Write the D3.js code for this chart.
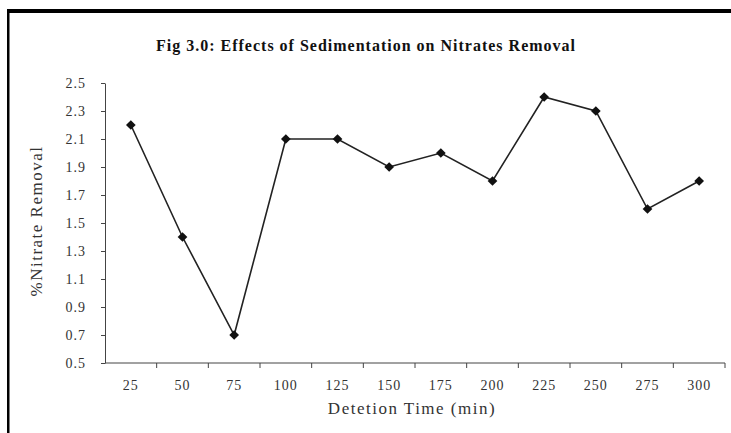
<!DOCTYPE html>
<html>
<head>
<meta charset="utf-8">
<script src="https://cdn.jsdelivr.net/npm/d3@7"></script>
<style>
  body { margin: 0; background: #fff; }
  text { font-family: "Liberation Serif", "DejaVu Serif", serif; }
</style>
</head>
<body>
<div class="container"></div>
<script>
const categories = ["25", "50", "75", "100", "125", "150", "175", "200", "225", "250", "275", "300"]
const removal = [2.2, 1.4, 0.7, 2.1, 2.1, 1.9, 2.0, 1.8, 2.4, 2.3, 1.6, 1.8]
const yTicks = [0.5, 0.7, 0.9, 1.1, 1.3, 1.5, 1.7, 1.9, 2.1, 2.3, 2.5]

const width = 731, height = 433
const margin = { top: 83, right: 6, bottom: 70, left: 105 }

const svg = d3.select(".container").append("svg")
    .attr("width", width)
    .attr("height", height)

// frame: thick top rule and thin left rule
svg.append("rect").attr("x", 7).attr("y", 9).attr("width", width - 7).attr("height", 4).attr("fill", "#000")
svg.append("rect").attr("x", 7).attr("y", 9).attr("width", 2.5).attr("height", height - 9).attr("fill", "#000")

const x = d3.scaleBand()
    .domain(categories)
    .range([margin.left, width - margin.right])

const y = d3.scaleLinear()
    .domain([0.5, 2.5])
    .range([height - margin.bottom, margin.top])

const gy = svg.append("g")
    .attr("transform", `translate(${margin.left},0)`)
    .call(d3.axisLeft(y).tickValues(yTicks).tickFormat(d3.format(".1f")).tickSize(4).tickSizeOuter(0))
gy.select(".domain").attr("stroke", "#444")
gy.selectAll(".tick line").attr("stroke", "#444")
gy.selectAll(".tick text").attr("x", -19).attr("font-size", 14)
    .attr("letter-spacing", 1).attr("fill", "#333")

// category ticks fall on the band boundaries
const gx = svg.append("g")
    .attr("transform", `translate(0,${height - margin.bottom})`)
gx.append("line")
    .attr("x1", margin.left).attr("x2", width - margin.right)
    .attr("stroke", "#444")
gx.selectAll(".bt")
    .data(categories)
    .join("line")
    .attr("class", "bt")
    .attr("x1", d => x(d) + x.bandwidth()).attr("x2", d => x(d) + x.bandwidth())
    .attr("y1", 0).attr("y2", 5)
    .attr("stroke", "#444")
gx.selectAll("text")
    .data(categories)
    .join("text")
    .attr("x", d => x(d) + x.bandwidth() / 2)
    .attr("y", 27)
    .attr("text-anchor", "middle")
    .attr("font-size", 14)
    .attr("letter-spacing", 1)
    .attr("fill", "#333")
    .text(d => d)

const line = d3.line()
    .x((d, i) => x(categories[i]) + x.bandwidth() / 2)
    .y(d => y(d))

svg.append("path")
    .datum(removal)
    .attr("fill", "none")
    .attr("stroke", "#222")
    .attr("stroke-width", 1.6)
    .attr("d", line)

svg.append("g")
    .selectAll("path")
    .data(removal)
    .join("path")
    .attr("transform", (d, i) => `translate(${x(categories[i]) + x.bandwidth() / 2},${y(d)})`)
    .attr("d", d3.symbol(d3.symbolDiamond2, 60))
    .attr("fill", "#111")

svg.append("text")
    .attr("x", 366).attr("y", 51)
    .attr("text-anchor", "middle")
    .attr("font-size", 16)
    .attr("font-weight", "bold")
    .attr("letter-spacing", 1)
    .attr("fill", "#111")
    .text("Fig 3.0: Effects of Sedimentation on Nitrates Removal")

svg.append("text")
    .attr("x", 412).attr("y", 414)
    .attr("text-anchor", "middle")
    .attr("font-size", 17)
    .attr("letter-spacing", 1.5)
    .attr("fill", "#333")
    .text("Detetion Time (min)")

svg.append("text")
    .attr("transform", "translate(42,221) rotate(-90)")
    .attr("text-anchor", "middle")
    .attr("font-size", 17)
    .attr("letter-spacing", 1.5)
    .attr("fill", "#333")
    .text("%Nitrate Removal")
</script>
</body>
</html>
